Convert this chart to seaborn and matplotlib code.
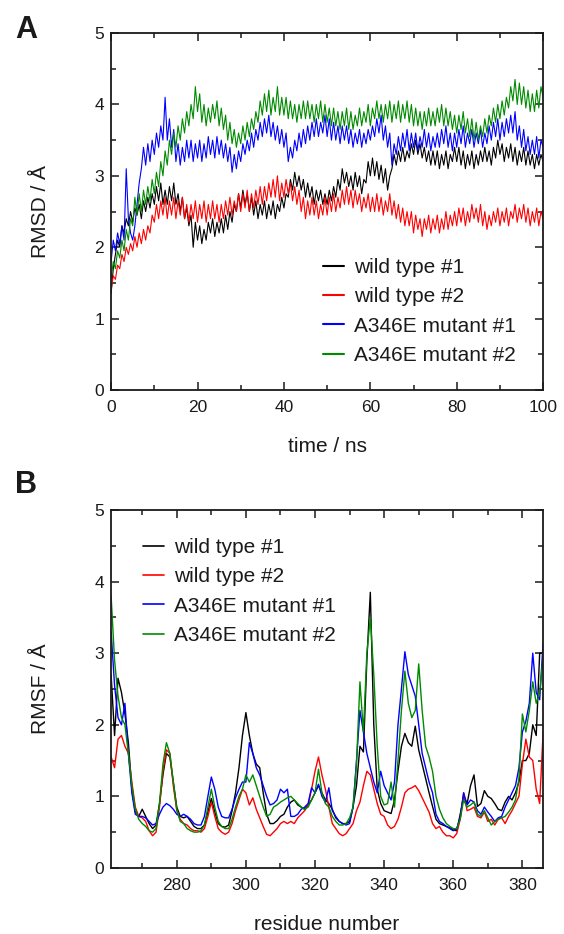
import numpy as np
import pandas as pd
import matplotlib
matplotlib.use("Agg")
import matplotlib.pyplot as plt
from matplotlib.ticker import MultipleLocator
import seaborn as sns

# ---------------- panel A : RMSD vs time (0.5 ns steps) ----------------
time_ns = np.arange(0, 100.5, 0.5)

rmsd_wt1 = [
    1.35, 1.7, 1.9, 2.1, 2.0, 2.3, 2.2, 2.4, 2.3, 2.5,
    2.35, 2.55, 2.45, 2.6, 2.4, 2.65, 2.5, 2.7, 2.55, 2.75,
    2.6, 2.85, 2.65, 2.9, 2.6, 2.8, 2.6, 2.85, 2.65, 2.9,
    2.6, 2.75, 2.5, 2.7, 2.4, 2.55, 2.3, 2.45, 2.0, 2.35,
    2.1, 2.3, 2.05, 2.25, 2.1, 2.35, 2.2, 2.4, 2.15, 2.35,
    2.2, 2.4, 2.2, 2.45, 2.25, 2.5, 2.35, 2.6, 2.5, 2.75,
    2.55, 2.8, 2.6, 2.75, 2.5, 2.7, 2.45, 2.65, 2.4, 2.6,
    2.45, 2.65, 2.4, 2.6, 2.45, 2.65, 2.4, 2.6, 2.5, 2.7,
    2.55, 2.75, 2.7, 2.95, 2.8, 3.05, 2.85, 3.0, 2.8, 2.95,
    2.7, 2.9, 2.7, 2.85, 2.6, 2.8, 2.65, 2.8, 2.6, 2.75,
    2.6, 2.8, 2.65, 2.85, 2.7, 2.95, 2.8, 3.1, 2.9, 3.05,
    2.85, 3.0, 2.8, 3.05, 2.85, 3.0, 2.75, 2.95, 2.9, 3.2,
    3.0, 3.25, 3.0, 3.2, 2.95, 3.15, 2.9, 3.1, 2.8, 3.0,
    3.1, 3.3, 3.15, 3.35, 3.2, 3.4, 3.2, 3.35, 3.25, 3.45,
    3.3, 3.5, 3.3, 3.45, 3.25, 3.4, 3.2, 3.35, 3.15, 3.35,
    3.15, 3.35, 3.1, 3.3, 3.15, 3.35, 3.1, 3.3, 3.2, 3.4,
    3.2, 3.4, 3.15, 3.35, 3.1, 3.3, 3.15, 3.35, 3.1, 3.3,
    3.15, 3.35, 3.2, 3.4, 3.2, 3.35, 3.15, 3.4, 3.25, 3.5,
    3.3, 3.45, 3.2, 3.4, 3.25, 3.45, 3.2, 3.4, 3.15, 3.35,
    3.2, 3.4, 3.15, 3.35, 3.15, 3.3, 3.1, 3.3, 3.15, 3.3,
    3.2,
]

rmsd_wt2 = [
    1.4, 1.6, 1.55, 1.75, 1.7, 1.9, 1.8, 2.0, 1.9, 2.05,
    1.95, 2.15, 2.0, 2.2, 2.05, 2.25, 2.1, 2.3, 2.2, 2.45,
    2.35, 2.6, 2.4, 2.65, 2.45, 2.7, 2.4, 2.65, 2.45, 2.7,
    2.4, 2.65, 2.45, 2.7, 2.4, 2.6, 2.35, 2.6, 2.4, 2.65,
    2.35, 2.6, 2.4, 2.65, 2.35, 2.6, 2.4, 2.65, 2.4, 2.6,
    2.35, 2.6, 2.4, 2.65, 2.45, 2.7, 2.45, 2.65, 2.5, 2.75,
    2.5, 2.75, 2.55, 2.8, 2.5, 2.75, 2.55, 2.8, 2.6, 2.85,
    2.6, 2.85, 2.65, 2.9, 2.7, 2.95, 2.7, 3.0, 2.65, 2.9,
    2.7, 2.95, 2.75, 2.9, 2.65, 2.85, 2.6, 2.8, 2.5, 2.7,
    2.4, 2.65, 2.45, 2.7, 2.45, 2.65, 2.4, 2.6, 2.45, 2.7,
    2.45, 2.7, 2.5, 2.75, 2.5, 2.7, 2.55, 2.8, 2.6, 2.85,
    2.6, 2.8, 2.55, 2.8, 2.6, 2.75, 2.5, 2.7, 2.55, 2.75,
    2.5, 2.7, 2.5, 2.75, 2.5, 2.7, 2.45, 2.65, 2.5, 2.75,
    2.45, 2.65, 2.4, 2.6, 2.35, 2.55, 2.3, 2.5, 2.3, 2.5,
    2.2, 2.45, 2.25, 2.4, 2.15, 2.4, 2.25, 2.45, 2.2, 2.4,
    2.25, 2.45, 2.2, 2.4, 2.25, 2.5, 2.25, 2.45, 2.3, 2.5,
    2.3, 2.55, 2.35, 2.55, 2.3, 2.5, 2.35, 2.6, 2.4, 2.55,
    2.35, 2.6, 2.3, 2.5, 2.25, 2.45, 2.3, 2.5, 2.35, 2.55,
    2.3, 2.5, 2.35, 2.55, 2.3, 2.5, 2.4, 2.6, 2.35, 2.55,
    2.4, 2.6, 2.35, 2.55, 2.3, 2.5, 2.35, 2.55, 2.3, 2.5,
    2.4,
]

rmsd_mut1 = [
    1.8, 2.1, 1.95, 2.2, 2.05, 2.3, 2.1, 3.1, 2.4, 2.2,
    2.1, 2.3, 2.6, 2.9, 3.1, 3.4, 3.15, 3.45, 3.2, 3.5,
    3.3, 3.6, 3.4, 3.7, 3.5, 4.1, 3.5, 3.8, 3.4, 3.65,
    3.2, 3.45, 3.15, 3.4, 3.2, 3.5, 3.25, 3.5, 3.2, 3.45,
    3.25, 3.5, 3.2, 3.45, 3.25, 3.55, 3.3, 3.5, 3.25, 3.55,
    3.3, 3.5, 3.25, 3.45, 3.2, 3.4, 3.05, 3.3, 3.1, 3.35,
    3.2, 3.45, 3.3, 3.5, 3.35, 3.6, 3.4, 3.65, 3.5, 3.75,
    3.55, 3.8, 3.6, 3.85, 3.55, 3.75, 3.5, 3.7, 3.45, 3.65,
    3.4, 3.6, 3.2, 3.4, 3.25, 3.5, 3.35, 3.6, 3.4, 3.65,
    3.45, 3.7, 3.5, 3.75, 3.55, 3.8, 3.55, 3.75, 3.6, 3.85,
    3.55, 3.8, 3.5, 3.75, 3.5, 3.7, 3.45, 3.7, 3.5, 3.7,
    3.45, 3.65, 3.4, 3.6, 3.45, 3.65, 3.4, 3.6, 3.45, 3.65,
    3.5, 3.7, 3.55, 3.8, 3.6, 3.85, 3.5, 3.7, 3.4, 3.6,
    3.15, 3.45, 3.3, 3.55, 3.35, 3.6, 3.4, 3.65, 3.35, 3.6,
    3.4, 3.6, 3.35, 3.55, 3.4, 3.65, 3.4, 3.6, 3.35, 3.55,
    3.4, 3.6, 3.4, 3.65, 3.45, 3.7, 3.4, 3.6, 3.35, 3.6,
    3.4, 3.65, 3.45, 3.7, 3.4, 3.6, 3.45, 3.65, 3.4, 3.6,
    3.45, 3.65, 3.4, 3.6, 3.45, 3.7, 3.5, 3.75, 3.55, 3.8,
    3.5, 3.75, 3.55, 3.8, 3.6, 3.85, 3.6, 3.9, 3.5, 3.7,
    3.4, 3.65, 3.35, 3.55, 3.3, 3.5, 3.3, 3.55, 3.25, 3.5,
    3.4,
]

rmsd_mut2 = [
    1.55, 1.8, 1.7, 1.95, 1.85, 2.1, 1.95, 2.25, 2.1, 2.4,
    2.3, 2.7, 2.45, 2.75, 2.5, 2.8, 2.6, 2.85, 2.65, 2.95,
    2.75, 3.05, 2.85, 3.2, 3.0, 3.35, 3.15, 3.5, 3.3, 3.6,
    3.4, 3.7, 3.5, 3.8, 3.6, 3.9, 3.7, 4.0, 3.8, 4.25,
    3.9, 4.15, 3.75, 4.0, 3.7, 3.95, 3.75, 4.0, 3.8, 4.05,
    3.7, 3.95, 3.65, 3.85, 3.5, 3.75, 3.45, 3.65, 3.4, 3.6,
    3.45, 3.7, 3.5, 3.75, 3.55, 3.8, 3.65, 3.9, 3.75, 4.05,
    3.85, 4.15, 3.9, 4.2, 3.85, 4.1, 3.9, 4.25, 3.85, 4.1,
    3.85, 4.1, 3.8, 4.05, 3.8, 4.0, 3.75, 4.0, 3.8, 4.05,
    3.8, 4.05, 3.8, 4.0, 3.75, 4.0, 3.8, 4.05, 3.75, 4.0,
    3.75, 3.95, 3.7, 3.95, 3.7, 3.9, 3.65, 3.9, 3.7, 3.95,
    3.65, 3.9, 3.65, 3.85, 3.7, 3.95, 3.7, 3.9, 3.75, 4.0,
    3.7, 3.95, 3.8, 4.05, 3.8, 4.0, 3.75, 4.0, 3.8, 4.05,
    3.75, 4.0, 3.8, 4.05, 3.75, 4.0, 3.8, 4.05, 3.75, 4.0,
    3.7, 3.95, 3.7, 3.9, 3.65, 3.9, 3.7, 3.95, 3.7, 3.9,
    3.7, 3.95, 3.75, 4.0, 3.7, 3.95, 3.7, 3.9, 3.65, 3.85,
    3.6, 3.85, 3.65, 3.9, 3.6, 3.8, 3.55, 3.8, 3.5, 3.75,
    3.5, 3.7, 3.55, 3.8, 3.6, 3.85, 3.7, 3.95, 3.75, 4.0,
    3.8, 4.05, 3.85, 4.1, 3.95, 4.25, 4.05, 4.35, 4.0, 4.3,
    4.0, 4.25, 3.95, 4.2, 3.9, 4.15, 3.9, 4.2, 3.95, 4.25,
    4.1,
]

# ---------------- panel B : RMSF per residue (261-386) ----------------
residues = np.arange(261, 387)

rmsf_wt1 = [
    2.7, 1.85, 2.65, 2.45, 2.15, 1.75, 1.1, 0.78, 0.72, 0.82,
    0.72, 0.62, 0.55, 0.6, 0.9, 1.3, 1.6, 1.55, 1.2, 0.85,
    0.72, 0.7, 0.72, 0.65, 0.58, 0.55, 0.55, 0.6, 0.78, 0.97,
    0.78, 0.62, 0.58, 0.57, 0.6, 0.8, 1.05, 1.4, 1.85, 2.17,
    1.85, 1.6, 1.45, 1.4, 1.05, 0.75, 0.62, 0.62, 0.66, 0.72,
    0.75, 0.85, 0.92, 0.95, 0.88, 0.85, 0.82, 0.88, 0.95, 1.05,
    1.15, 1.05, 0.95, 0.9, 0.82, 0.7, 0.65, 0.62, 0.62, 0.65,
    0.85, 1.15, 1.7, 1.62, 2.9, 3.85, 2.0, 1.1, 0.9, 0.8,
    0.78, 0.76, 0.95, 1.35, 1.7, 1.88, 1.75, 1.7, 1.98, 1.65,
    1.45, 1.25, 1.05, 0.86, 0.68, 0.62, 0.6, 0.58, 0.56, 0.53,
    0.52, 0.75, 1.0, 0.9, 1.15, 1.3, 0.86, 0.9, 1.08, 1.0,
    0.97, 0.9, 0.82, 0.8, 0.92, 1.0, 0.95, 1.05, 1.2, 1.5,
    1.5, 1.6, 2.0, 1.85, 3.0, 3.0,
]

rmsf_wt2 = [
    1.55, 1.4, 1.8, 1.85, 1.7, 1.6, 1.2, 0.85, 0.72, 0.7,
    0.65, 0.52, 0.45, 0.5, 0.85, 1.35, 1.65, 1.6, 1.15, 0.8,
    0.68, 0.62, 0.6, 0.55, 0.52, 0.52, 0.5, 0.55, 0.72, 0.92,
    0.72, 0.55, 0.5, 0.47, 0.5, 0.62, 0.8, 0.95, 1.1, 1.05,
    0.88, 0.98, 0.82, 0.7, 0.58, 0.47, 0.45, 0.5, 0.55, 0.62,
    0.65, 0.62, 0.65, 0.62, 0.7, 0.75, 0.8, 0.88, 1.1, 1.35,
    1.55, 1.3, 1.1, 0.85, 0.62, 0.55, 0.48, 0.45, 0.48, 0.55,
    0.62, 0.8, 0.92, 1.15, 1.35, 1.3, 1.1, 0.9, 0.75, 0.72,
    0.6, 0.55, 0.58, 0.68, 0.85, 1.05, 1.1, 1.12, 1.15, 1.08,
    0.98, 0.88, 0.78, 0.62, 0.55, 0.58, 0.5, 0.45, 0.45, 0.42,
    0.48, 0.68, 1.05, 0.8, 0.82, 0.85, 0.72, 0.7, 0.78, 0.65,
    0.68, 0.6, 0.68, 0.7, 0.62, 0.72, 0.8, 0.9, 1.0, 1.45,
    1.8, 1.55, 1.5, 1.1, 0.9, 1.9,
]

rmsf_mut1 = [
    3.3, 2.55, 2.1, 2.0, 2.3, 1.6, 1.05, 0.75, 0.72, 0.72,
    0.7, 0.65, 0.6, 0.62, 0.75, 0.85, 0.9, 0.87, 0.82, 0.75,
    0.72, 0.75, 0.72, 0.68, 0.62, 0.6, 0.6, 0.72, 1.0, 1.27,
    1.1, 0.85, 0.72, 0.7, 0.7, 0.82, 0.98, 1.1, 1.2, 1.2,
    1.75, 1.6, 1.4, 1.3, 1.15, 1.0, 0.88, 0.9, 0.95, 1.1,
    1.05, 1.1, 0.72, 0.72, 0.75, 0.82, 0.85, 0.9, 1.12, 1.05,
    1.17, 1.0, 0.92, 1.12, 0.8, 0.72, 0.65, 0.62, 0.6, 0.62,
    0.85, 1.5, 2.2, 1.9, 1.6, 1.4, 1.2, 1.05, 1.35, 1.15,
    1.05, 0.95, 1.2, 2.0, 2.5, 3.02, 2.7, 2.55, 2.4, 2.0,
    1.6, 1.4, 1.2, 1.05, 0.75, 0.65, 0.62, 0.58, 0.55, 0.52,
    0.55, 0.7, 1.05, 0.88, 0.95, 0.92, 0.8, 0.75, 0.85, 0.78,
    0.72, 0.65, 0.7, 0.72, 0.85, 0.95, 1.05, 1.15, 1.4, 1.9,
    2.05, 2.3, 3.0, 2.45, 2.35, 3.15,
]

rmsf_mut2 = [
    3.8, 2.9, 2.4, 2.1, 2.0, 1.6, 1.15, 0.82, 0.68, 0.62,
    0.58, 0.52, 0.5, 0.55, 0.9, 1.45, 1.75, 1.6, 1.2, 0.82,
    0.65, 0.62, 0.55, 0.52, 0.5, 0.5, 0.52, 0.6, 0.85, 1.1,
    0.85, 0.65, 0.58, 0.55, 0.55, 0.68, 0.85, 1.0, 1.1, 1.3,
    1.2, 1.3, 1.15, 1.0, 0.85, 0.72, 0.75, 0.85, 0.88, 0.92,
    0.95, 0.98, 1.0, 0.95, 0.9, 0.85, 0.82, 0.85, 0.95, 1.05,
    1.38, 1.05, 0.9, 0.85, 0.72, 0.65, 0.6, 0.6, 0.62, 0.7,
    0.85, 1.45, 2.6, 1.9, 3.0, 3.5, 2.7, 1.7, 1.0, 0.88,
    0.9, 1.2, 0.85, 1.5, 2.2, 2.75, 2.3, 2.1, 2.2, 2.85,
    2.2, 1.7, 1.55, 1.35, 1.0, 0.82, 0.7, 0.62, 0.58, 0.55,
    0.55, 0.68, 0.95, 0.85, 0.88, 0.92, 0.75, 0.72, 0.8, 0.7,
    0.6, 0.65, 0.68, 0.7, 0.72, 0.78, 0.85, 0.95, 1.25, 2.15,
    1.9, 2.2, 2.6, 2.3, 2.45, 2.95,
]

labels = ["wild type #1", "wild type #2", "A346E mutant #1", "A346E mutant #2"]
colors = ["#000000", "#ff0000", "#0000ff", "#008a00"]

sns.set_theme(style="ticks")
plt.rcParams["font.family"] = ["Liberation Sans", "DejaVu Sans"]
plt.rcParams["text.color"] = "#1a1a1a"
plt.rcParams["axes.labelcolor"] = "#1a1a1a"
fontsize = 15


def style_axes(ax):
    ax.tick_params(which="both", direction="in", top=True, right=True,
                   labelsize=12.5, width=1.1, colors="#1a1a1a")
    ax.tick_params(which="major", length=6, pad=5)
    ax.tick_params(which="minor", length=3.5)
    ax.tick_params(axis="x", which="major", pad=7)
    for sp in ax.spines.values():
        sp.set_linewidth(1.3)
        sp.set_color("#1a1a1a")
    ax.yaxis.set_major_locator(MultipleLocator(1))
    ax.yaxis.set_minor_locator(MultipleLocator(0.5))
    ax.set_ylim(0, 5)


fig = plt.figure(figsize=(5.64, 9.34), dpi=100)
axA = fig.add_axes([0.197, 0.5824, 0.766, 0.3822])
axB = fig.add_axes([0.197, 0.0707, 0.766, 0.3833])

# panel A
for y, lab, col in zip([rmsd_wt1, rmsd_wt2, rmsd_mut1, rmsd_mut2], labels, colors):
    df = pd.DataFrame({"time": time_ns, "rmsd": y})
    sns.lineplot(data=df, x="time", y="rmsd", ax=axA, color=col, lw=0.8,
                 label=lab, estimator=None)
style_axes(axA)
axA.set_xlim(0, 100)
axA.xaxis.set_major_locator(MultipleLocator(20))
axA.xaxis.set_minor_locator(MultipleLocator(10))
axA.set_xlabel("time / ns", fontsize=fontsize)
axA.set_ylabel("RMSD / \u00c5", fontsize=fontsize)
axA.xaxis.set_label_coords(0.5, -0.132)
axA.yaxis.set_label_coords(-0.141, 0.5)
legA = axA.legend(loc="upper left", bbox_to_anchor=(0.491, 0.37), frameon=False,
                  fontsize=fontsize, handlelength=1.0, handletextpad=0.5,
                  labelspacing=0.5, borderpad=0, borderaxespad=0)
for h in legA.get_lines():
    h.set_linewidth(1.5)

# panel B
for y, lab, col in zip([rmsf_wt1, rmsf_wt2, rmsf_mut1, rmsf_mut2], labels, colors):
    df = pd.DataFrame({"residue": residues, "rmsf": y})
    sns.lineplot(data=df, x="residue", y="rmsf", ax=axB, color=col, lw=1.0,
                 label=lab, estimator=None)
style_axes(axB)
axB.set_xlim(261, 386)
axB.xaxis.set_major_locator(MultipleLocator(20))
axB.xaxis.set_minor_locator(MultipleLocator(10))
axB.set_xlabel("residue number", fontsize=fontsize)
axB.set_ylabel("RMSF / \u00c5", fontsize=fontsize)
axB.xaxis.set_label_coords(0.5, -0.131)
axB.yaxis.set_label_coords(-0.141, 0.5)
legB = axB.legend(loc="upper left", bbox_to_anchor=(0.074, 0.922), frameon=False,
                  fontsize=fontsize, handlelength=1.0, handletextpad=0.5,
                  labelspacing=0.5, borderpad=0, borderaxespad=0)
for h in legB.get_lines():
    h.set_linewidth(1.2)

fig.text(15 / 564, 1 - 38 / 934, "A", fontsize=22, fontweight="bold", va="baseline")
fig.text(15 / 564, 1 - 493 / 934, "B", fontsize=22, fontweight="bold", va="baseline")

fig.savefig("out.png", dpi=100)
